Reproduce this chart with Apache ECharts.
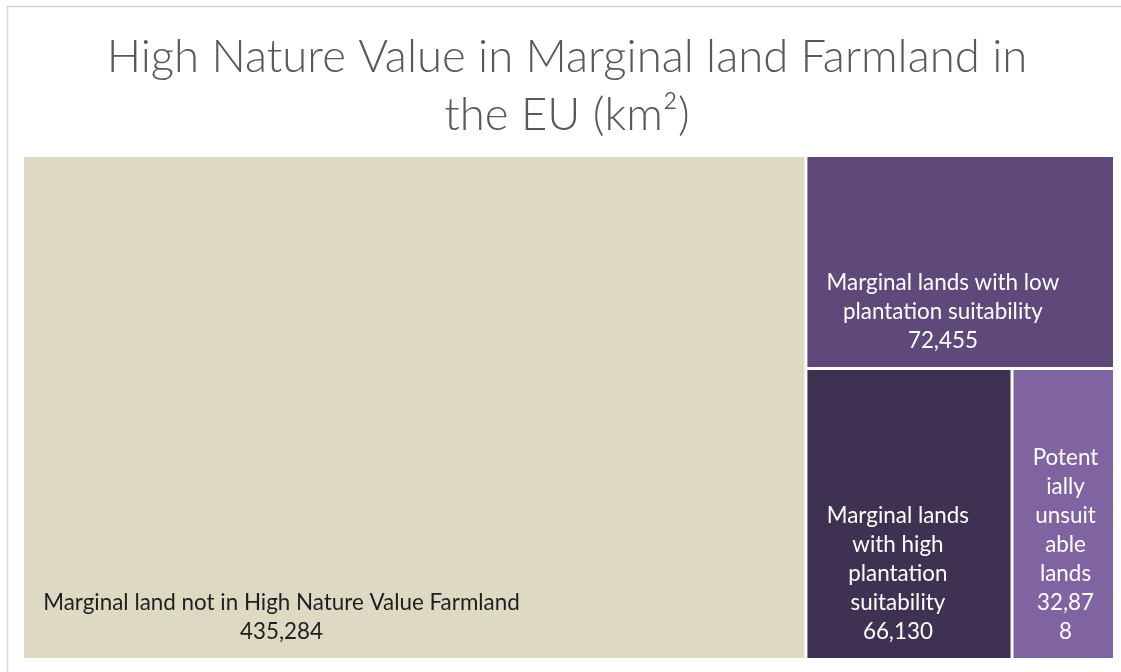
<!DOCTYPE html>
<html>
<head>
<meta charset="utf-8">
<script src="https://cdn.jsdelivr.net/npm/echarts@6/dist/echarts.min.js"></script>
<style>
  html, body { margin: 0; padding: 0; background: #ffffff; }
  #chart { width: 1121px; height: 672px; }
</style>
</head>
<body>
<div id="chart"></div>
<script>
// Marginal land in the EU by High Nature Value farmland class (km²)
const titleLines = ['High Nature Value in Marginal land Farmland in', 'the EU (km²)'];
const categories = [
  'Marginal land not in High Nature Value Farmland',
  'Marginal lands with low plantation suitability',
  'Marginal lands with high plantation suitability',
  'Potentially unsuitable lands'
];
const areaKm2 = [435284, 72455, 66130, 32878];
const fills = ['#DDD9C3', '#5F497A', '#3F3151', '#8064A2'];
const textColors = ['#1f1f1f', '#ffffff', '#ffffff', '#ffffff'];

// label typography and placement inside each tile
const LABEL_FAMILY = 'Lato';
const LABEL_SIZE = 22.4;
const LABEL_LINE = 29;
const INSET = 19;        // left inset of the text block
const WRAP_MARGIN = 16;  // side margins used when wrapping
const BOTTOM_PAD = 12;

const fmt = v => v.toLocaleString('en-US');

const measureCtx = document.createElement('canvas').getContext('2d');
measureCtx.font = LABEL_SIZE + 'px ' + LABEL_FAMILY;
const textW = s => measureCtx.measureText(s).width;

// greedy word wrap; words wider than the line are split by character
function wrapText(text, maxW) {
  const out = [];
  text.split('\n').forEach(para => {
    let line = '';
    para.split(' ').forEach(word => {
      const cand = line ? line + ' ' + word : word;
      if (textW(cand) <= maxW) { line = cand; return; }
      if (line) { out.push(line); line = ''; }
      let rest = word;
      while (rest.length > 1 && textW(rest) > maxW) {
        let k = rest.length - 1;
        while (k > 1 && textW(rest.slice(0, k)) > maxW) k--;
        out.push(rest.slice(0, k));
        rest = rest.slice(k);
      }
      line = rest;
    });
    out.push(line);
  });
  return out;
}

function buildData(labelOverrides) {
  return categories.map((name, i) => {
    const item = {
      name: name,
      value: areaKm2[i],
      itemStyle: { color: fills[i] },
      label: { color: textColors[i] }
    };
    if (labelOverrides && labelOverrides[name]) Object.assign(item.label, labelOverrides[name]);
    return item;
  });
}

const chart = echarts.init(document.getElementById('chart'), null, { renderer: 'canvas' });

const option = {
  animation: false,
  backgroundColor: '#ffffff',
  graphic: [{
    type: 'rect',
    silent: true,
    z: -10,
    shape: { x: 7.5, y: 6.5, width: 1300, height: 900 },
    style: { fill: 'none', stroke: '#d9d9d9', lineWidth: 1.5 }
  }],
  title: {
    text: titleLines.join('\n'),
    left: 567,
    top: 28,
    textAlign: 'center',
    padding: 0,
    textStyle: {
      fontFamily: 'Lato',
      fontWeight: 300,
      fontSize: 45.5,
      lineHeight: 58,
      color: '#595959'
    }
  },
  series: [{
    type: 'treemap',
    left: 24,
    top: 157,
    width: 1089,
    height: 501,
    squareRatio: 1,
    roam: false,
    nodeClick: false,
    breadcrumb: { show: false },
    itemStyle: { borderWidth: 0, gapWidth: 3 },
    upperLabel: { show: false },
    label: {
      show: true,
      position: 'insideBottom',
      distance: 0,
      overflow: 'none',
      fontFamily: LABEL_FAMILY,
      fontSize: LABEL_SIZE,
      lineHeight: LABEL_LINE,
      padding: [0, WRAP_MARGIN, BOTTOM_PAD, WRAP_MARGIN],
      formatter: p => p.name + '\n' + fmt(p.value)
    },
    data: buildData()
  }]
};

chart.setOption(option);

// second pass: wrap each label to its tile and left-inset the centred block
const tree = chart.getModel().getSeriesByIndex(0).getData().tree;
const overrides = {};
tree.root.children.forEach(node => {
  const box = node.getLayout();
  const lines = wrapText(node.name + '\n' + fmt(node.getValue()), box.width - 2 * WRAP_MARGIN);
  const blockW = Math.ceil(Math.max.apply(null, lines.map(textW)));
  overrides[node.name] = {
    formatter: lines.join('\n'),
    padding: [0, Math.max(box.width - INSET - blockW, 0), BOTTOM_PAD, INSET]
  };
});
option.series[0].data = buildData(overrides);
chart.setOption(option);
</script>
</body>
</html>
